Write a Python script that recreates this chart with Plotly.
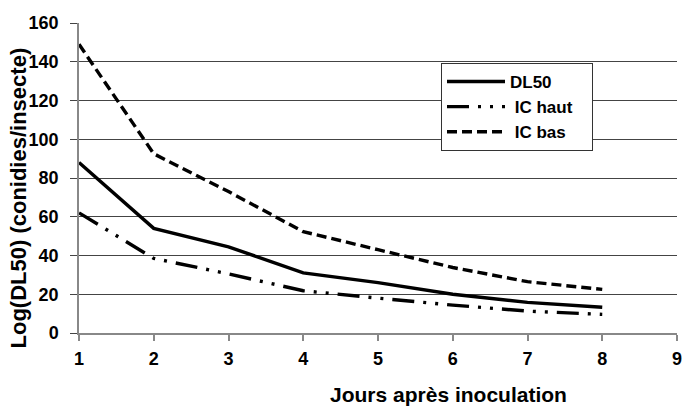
import plotly.graph_objects as go

jours = [1, 2, 3, 4, 5, 6, 7, 8]
dl50 = [88, 54, 44.5, 31, 26, 20, 15.8, 13.3]
ic_haut = [62, 38.5, 30.5, 21.8, 18, 14.4, 11.3, 9.6]
ic_bas = [149, 92.5, 73, 52.3, 43, 33.8, 26.5, 22.5]

font_family = "Liberation Sans, Arial, sans-serif"

L, R, T, B = 79, 9, 23, 73
W, H = 686, 406
pw, ph = W - L - R, H - T - B

fig = go.Figure()
fig.add_trace(go.Scatter(x=jours, y=dl50, mode="lines", name="DL50",
                         line=dict(color="black", width=3.4, dash="solid")))
fig.add_trace(go.Scatter(x=jours, y=ic_haut, mode="lines", name=" IC haut\u00a0\u00a0\u00a0",
                         line=dict(color="black", width=3.4,
                                   dash="22px,9px,3px,9px,3px,9px")))
fig.add_trace(go.Scatter(x=jours, y=ic_bas, mode="lines", name=" IC bas",
                         line=dict(color="black", width=3.4, dash="10px,5px")))

fig.update_layout(
    width=W, height=H,
    margin=dict(l=L, r=R, t=T, b=B, autoexpand=False),
    paper_bgcolor="white", plot_bgcolor="white",
    font=dict(family=font_family, size=16, color="black", weight="bold"),
    showlegend=True,
    legend=dict(x=(441 - L) / pw, y=(333 - 63) / ph, xanchor="left", yanchor="top",
                bordercolor="#333", borderwidth=1, bgcolor="white",
                font=dict(family=font_family, size=17, color="black", weight="bold"),
                tracegroupgap=0, itemwidth=58),
)

fig.update_xaxes(range=[1, 9], dtick=1, tick0=1, showgrid=False,
                 showline=True, linecolor="#888", linewidth=1.5,
                 ticks="outside", ticklen=6, tickcolor="#888", tickwidth=1.5,
                 zeroline=False, automargin=False, ticklabelstandoff=3,
                 tickfont=dict(family=font_family, size=18, color="black", weight="bold"))
fig.update_yaxes(range=[0, 160], dtick=20, showgrid=True, gridcolor="#444", gridwidth=1,
                 showline=True, linecolor="#888", linewidth=1.5,
                 ticks="outside", ticklen=7, tickcolor="#444", tickwidth=1,
                 zeroline=False, automargin=False, ticklabelstandoff=8,
                 tickfont=dict(family=font_family, size=18, color="black", weight="bold"))

fig.add_annotation(text="Jours après inoculation", xref="paper", yref="paper",
                   x=(448.5 - L) / pw, y=-(394 - 333) / ph, xanchor="center", yanchor="middle",
                   showarrow=False,
                   font=dict(family=font_family, size=21, color="black", weight="bold"))
fig.add_annotation(text="Log(DL50) (conidies/insecte)", xref="paper", yref="paper",
                   x=(18 - L) / pw, y=(333 - 198.5) / ph, xanchor="center", yanchor="middle",
                   textangle=-90, showarrow=False,
                   font=dict(family=font_family, size=22, color="black", weight="bold"))

fig.write_html("out.html", config={"displayModeBar": False},
               post_script="document.body.style.margin='0';")
